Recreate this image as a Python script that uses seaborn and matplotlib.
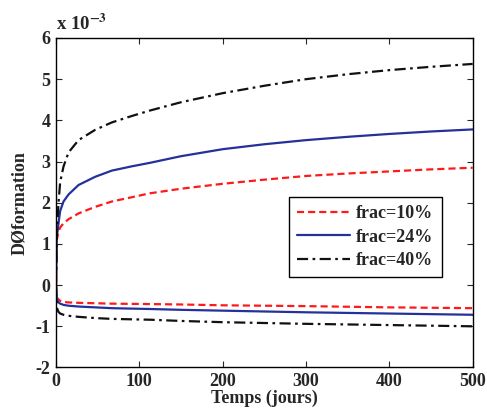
import numpy as np
import pandas as pd
import matplotlib
matplotlib.use("Agg")
import matplotlib.pyplot as plt
import seaborn as sns

# time (days) and deformation values, in units of 1e-3
temps = [0, 1, 3, 5, 9, 15, 27, 47, 67, 90, 113, 150, 200, 250, 300, 350, 400, 450, 500]

frac10_up = [0, 1.1, 1.3, 1.4, 1.5, 1.6, 1.74, 1.9, 2.03, 2.13, 2.23, 2.34, 2.46,
             2.56, 2.65, 2.71, 2.76, 2.81, 2.85]
frac24_up = [0, 1.2, 1.5, 1.8, 2.03, 2.2, 2.43, 2.63, 2.78, 2.88, 2.97, 3.13, 3.30,
             3.42, 3.52, 3.60, 3.67, 3.73, 3.78]
frac40_up = [0, 1.2, 2.0, 2.5, 2.88, 3.22, 3.52, 3.77, 3.95, 4.1, 4.24, 4.44, 4.66,
             4.84, 5.0, 5.12, 5.22, 5.30, 5.37]

frac10_low = [0, -0.3, -0.35, -0.38, -0.41, -0.42, -0.43, -0.44, -0.45, -0.455, -0.46,
              -0.47, -0.49, -0.50, -0.51, -0.525, -0.54, -0.55, -0.56]
frac24_low = [0, -0.35, -0.42, -0.45, -0.48, -0.5, -0.52, -0.54, -0.56, -0.57, -0.58,
              -0.6, -0.62, -0.64, -0.66, -0.675, -0.69, -0.705, -0.72]
frac40_low = [0, -0.55, -0.65, -0.69, -0.72, -0.745, -0.77, -0.8, -0.82, -0.83, -0.84,
              -0.87, -0.9, -0.92, -0.94, -0.955, -0.97, -0.985, -1.0]

labels = ["frac=10%", "frac=24%", "frac=40%"]

sns.set_style("ticks")
plt.rcParams["font.family"] = ["Liberation Serif", "DejaVu Serif"]
plt.rcParams["font.weight"] = "bold"
plt.rcParams["mathtext.fontset"] = "stix"
plt.rcParams["axes.unicode_minus"] = False

fig = plt.figure(figsize=(4.87, 4.16), dpi=100)
ax = fig.add_axes([0.115, 0.1166, 0.8556, 0.7921])

styles = [("#ff1a1a", (0, (3.2, 1.8))), ("#24319a", "-"), ("#111111", (0, (5, 2, 1.2, 2)))]
ups = [frac10_up, frac24_up, frac40_up]
lows = [frac10_low, frac24_low, frac40_low]

for up, low, lab, (c, ls) in zip(ups, lows, labels, styles):
    sns.lineplot(x=temps, y=up, ax=ax, color=c, linestyle=ls, linewidth=1.6, label=lab)
    sns.lineplot(x=temps, y=low, ax=ax, color=c, linestyle=ls, linewidth=1.6)

fs = 13
ax.set_xlim(0, 500)
ax.set_ylim(-2, 6)
ax.set_xticks(range(0, 501, 100))
ax.set_yticks(range(-2, 7))
ax.tick_params(direction="in", top=True, right=True, labelsize=fs, length=4, width=0.8, pad=4)
for lbl in ax.get_xticklabels() + ax.get_yticklabels():
    lbl.set_fontweight("bold")
for s in ax.spines.values():
    s.set_linewidth(1.0)
    s.set_color("black")

ax.set_xlabel("Temps (jours)", fontsize=fs, fontweight="bold", labelpad=0)
ax.set_ylabel("DØformation", fontsize=fs, fontweight="bold", labelpad=5)

ax.text(0.0, 1.012, r"x 10$^{\mathbf{-3}}$", transform=ax.transAxes, ha="left", va="bottom",
        fontsize=fs + 0.5, fontweight="bold")

leg = ax.legend(loc="upper left", bbox_to_anchor=(0.56, 0.517), borderaxespad=0,
                fancybox=False, framealpha=1, edgecolor="black", fontsize=13,
                handlelength=2.9, handletextpad=0.35, labelspacing=0.35, borderpad=0.45)
leg.get_frame().set_linewidth(1.0)
for t in leg.get_texts():
    t.set_fontweight("bold")

fig.savefig("out.png", dpi=100)
